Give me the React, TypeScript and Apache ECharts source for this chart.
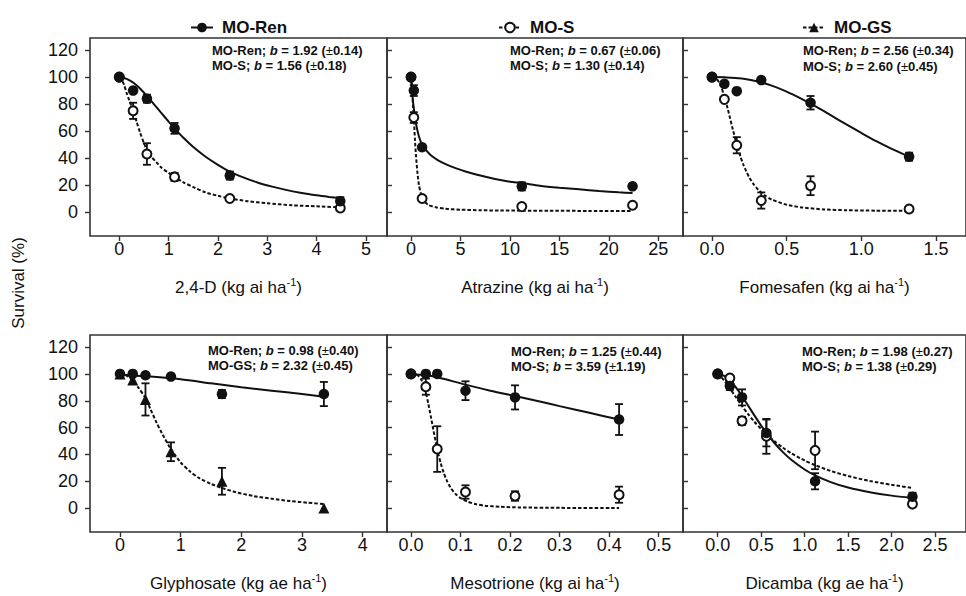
import React, { useEffect, useRef } from "react";
import * as echarts from "echarts";

const FONT = "'Liberation Sans', Arial, Helvetica, sans-serif";
const INK = "#111";

// ---------- axis texts / ticks ----------
const herbicides = ["2,4-D", "Atrazine", "Fomesafen", "Glyphosate", "Mesotrione", "Dicamba"];
const units = ["kg ai ha", "kg ai ha", "kg ai ha", "kg ae ha", "kg ai ha", "kg ae ha"];
const xTicks = [
  [0, 1, 2, 3, 4, 5],
  [0, 5, 10, 15, 20, 25],
  [0, 0.5, 1, 1.5],
  [0, 1, 2, 3, 4],
  [0, 0.1, 0.2, 0.3, 0.4, 0.5],
  [0, 0.5, 1, 1.5, 2, 2.5],
];
const xDecimals = [0, 0, 1, 0, 1, 1];
const xMin = [-0.594, -2.43, -0.194, -0.494, -0.0484, -0.399];
const xMax = [5.427, 27.5, 1.701, 4.4, 0.549, 2.856];
const yTicks = [0, 20, 40, 60, 80, 100, 120];
const yMin = -17.8;
const yMax = 129;
const yName = "Survival (%)";

// ---------- annotations: [population, b, se] ----------
const notes = [
  [["MO-Ren", "1.92", "0.14"], ["MO-S", "1.56", "0.18"]],
  [["MO-Ren", "0.67", "0.06"], ["MO-S", "1.30", "0.14"]],
  [["MO-Ren", "2.56", "0.34"], ["MO-S", "2.60", "0.45"]],
  [["MO-Ren", "0.98", "0.40"], ["MO-GS", "2.32", "0.45"]],
  [["MO-Ren", "1.25", "0.44"], ["MO-S", "3.59", "1.19"]],
  [["MO-Ren", "1.98", "0.27"], ["MO-S", "1.38", "0.29"]],
];

// ---------- observed points: [dose, survival, error] ----------
const renPts = [
  [[0, 100, 0], [0.28, 90, 0], [0.56, 84, 3], [1.12, 62, 4], [2.24, 27, 3], [4.48, 8, 3]],
  [[0, 100, 0], [0.28, 90, 4], [1.12, 48, 0], [11.2, 19, 3], [22.4, 19, 0]],
  [[0, 100, 0], [0.083, 95, 0], [0.166, 89.6, 0], [0.33, 97.8, 0], [0.66, 81, 5], [1.32, 41, 3]],
  [[0, 100, 0], [0.21, 100, 0], [0.42, 99, 0], [0.84, 98, 0], [1.68, 85, 3], [3.36, 85, 9]],
  [[0, 100, 0], [0.03, 100, 0], [0.053, 100, 0], [0.11, 87.5, 7], [0.21, 82.5, 9], [0.42, 66, 11.5]],
  [[0, 100, 0], [0.14, 91, 3], [0.28, 82.5, 6], [0.56, 56, 10], [1.12, 20, 6], [2.24, 8.5, 3]],
];
const susPts = [
  [[0, 100, 0], [0.28, 75, 6], [0.56, 43, 8], [1.12, 26, 3], [2.24, 10, 0], [4.48, 3, 0]],
  [[0, 100, 0], [0.28, 70, 4], [1.12, 10, 0], [11.2, 4, 0], [22.4, 5, 0]],
  [[0, 100, 0], [0.083, 83.5, 0], [0.166, 49.5, 6], [0.33, 8.5, 6], [0.66, 19.5, 7], [1.32, 2.2, 0]],
  [[0, 100, 0], [0.21, 95.5, 0], [0.42, 81, 12], [0.84, 42, 7], [1.68, 20, 10], [3.36, 0, 0]],
  [[0, 100, 0], [0.03, 90.5, 6], [0.053, 44, 17], [0.11, 12, 5], [0.21, 9, 3.5], [0.42, 10, 6]],
  [[0, 100, 0], [0.14, 97, 0], [0.28, 65, 3], [0.56, 53.5, 13], [1.12, 43, 14], [2.24, 3, 0]],
];

// ---------- fitted curves ----------
const renFitX = [
  [0, 0.1, 0.2, 0.3, 0.42, 0.56, 0.7, 0.85, 1.0, 1.12, 1.3, 1.5, 1.75, 2.0, 2.24, 2.5, 2.8, 3.1, 3.4, 3.7, 4.0, 4.25, 4.48],
  [0, 0.05, 0.1, 0.2, 0.3, 0.45, 0.6, 0.8, 1.12, 1.5, 2, 2.7, 3.5, 4.5, 5.5, 7, 8.5, 10, 11.2, 13, 15, 17, 19, 21, 22.4],
  [0, 0.1, 0.2, 0.3, 0.4, 0.5, 0.6, 0.7, 0.8, 0.9, 1.0, 1.1, 1.2, 1.32],
  [0, 0.5, 1, 1.5, 2, 2.5, 3, 3.36],
  [0, 0.03, 0.053, 0.08, 0.11, 0.16, 0.21, 0.26, 0.3, 0.36, 0.42],
  [0, 0.07, 0.14, 0.21, 0.28, 0.35, 0.42, 0.5, 0.56, 0.65, 0.75, 0.85, 1.0, 1.12, 1.3, 1.5, 1.75, 2.0, 2.24],
];
const renFitY = [
  [100, 99.4, 97.8, 95.4, 91.5, 86, 80, 73.5, 67, 62, 55, 48.2, 41, 35, 30, 25.9, 21.9, 18.8, 16.2, 14.1, 12.4, 11.2, 10.2],
  [100, 95, 90, 82, 76, 68, 62, 56, 50, 46, 42, 38.5, 35.5, 32.5, 30, 27, 24.5, 22.5, 21.5, 19.5, 18, 16.8, 15.6, 14.6, 14],
  [100, 99.8, 98.9, 96.9, 93.7, 89.3, 83.9, 77.9, 71.4, 64.9, 58.6, 52.5, 47, 41],
  [99.5, 98, 96, 93, 90, 87.5, 85, 83],
  [100, 99, 97.5, 95, 92, 87.5, 83.5, 79.5, 76, 71, 66],
  [100, 98.7, 95.2, 89.9, 83.4, 76.4, 69.3, 61.5, 56, 48.7, 41.7, 35.8, 28.8, 24.4, 19.4, 15.3, 11.8, 9.3, 7.6],
];
const susFitX = [
  [0, 0.05, 0.1, 0.15, 0.2, 0.28, 0.35, 0.42, 0.5, 0.56, 0.65, 0.75, 0.85, 1.0, 1.12, 1.3, 1.5, 1.75, 2.0, 2.24, 2.6, 3.0, 3.5, 4.0, 4.48],
  [0, 0.05, 0.1, 0.2, 0.28, 0.4, 0.5, 0.65, 0.8, 1.0, 1.12, 1.4, 1.8, 2.5, 3.5, 5, 7, 9, 11.2, 14, 18, 22.4],
  [0, 0.03, 0.06, 0.083, 0.1, 0.12, 0.14, 0.166, 0.19, 0.21, 0.23, 0.25, 0.28, 0.31, 0.35, 0.4, 0.5, 0.6, 0.75, 0.9, 1.1, 1.32],
  [0, 0.1, 0.21, 0.3, 0.42, 0.5, 0.6, 0.7, 0.84, 1.0, 1.15, 1.3, 1.5, 1.68, 1.9, 2.2, 2.5, 2.8, 3.1, 3.36],
  [0, 0.01, 0.02, 0.03, 0.035, 0.04, 0.045, 0.05, 0.055, 0.06, 0.066, 0.072, 0.08, 0.09, 0.1, 0.115, 0.13, 0.15, 0.18, 0.22, 0.3, 0.42],
  [0, 0.07, 0.14, 0.21, 0.28, 0.35, 0.42, 0.5, 0.56, 0.65, 0.75, 0.85, 1.0, 1.12, 1.3, 1.5, 1.75, 2.0, 2.24],
];
const susFitY = [
  [100, 98, 94, 88, 83, 75, 67, 59, 51, 46, 41, 37, 33, 29, 26, 22, 18.5, 14.5, 12, 10, 8, 6.5, 5, 4.2, 3.5],
  [100, 97, 92, 79, 70, 53, 42, 29, 20, 13.5, 11, 7.5, 5, 3.5, 2.4, 1.7, 1.3, 1.1, 1, 0.9, 0.8, 0.7],
  [100, 98.8, 93.4, 85.5, 79, 70, 61, 50, 41.3, 35.2, 30, 25.6, 20.4, 16.5, 12.6, 9.2, 5.4, 3.4, 1.9, 1.3, 1, 0.8],
  [100, 99, 95, 90, 82, 74, 64, 55, 44, 34, 27.5, 22.5, 18, 15, 12, 9, 7, 5.3, 4, 3],
  [100, 99.7, 96.3, 86, 77.8, 68.4, 58.6, 49.3, 40.8, 33.5, 26.4, 20.8, 15.2, 10.5, 7.5, 4.7, 3, 1.8, 1, 0.5, 0.2, 0],
  [100, 95.6, 89.2, 82.6, 76, 70, 64.5, 58.9, 55, 49.9, 45, 40.7, 35.5, 32, 27.7, 23.9, 20.2, 17.4, 15],
];

const legendNames = ["MO-Ren", "MO-S", "MO-GS"];

// ---------- layout ----------
const gridRects = [
  { left: 90, top: 38, width: 297, height: 198 },
  { left: 387, top: 38, width: 296, height: 198 },
  { left: 683, top: 38, width: 296, height: 198 },
  { left: 90, top: 335, width: 297, height: 197 },
  { left: 387, top: 335, width: 296, height: 197 },
  { left: 683, top: 335, width: 296, height: 197 },
];
const notePos = [
  [212, 50], [510, 50], [803, 50.5],
  [208, 350], [511, 351], [802, 351],
];

const filledStyle = { color: INK, borderColor: INK, borderWidth: 0, opacity: 1 };
const openStyle = { color: "#fff", borderColor: INK, borderWidth: 2, opacity: 1 };
const solidLine = { color: INK, width: 2, type: "solid" as const };
const dashLine = { color: INK, width: 2, type: [3.5, 2] as number[] };

function errorSeries(idx: number, pts: number[][], name: string) {
  return {
    type: "custom",
    name,
    xAxisIndex: idx,
    yAxisIndex: idx,
    z: 3,
    silent: true,
    data: pts.filter((p) => p[2] > 0),
    encode: { x: 0, y: 1 },
    renderItem: (_params: any, api: any) => {
      const x = api.value(0);
      const y = api.value(1);
      const e = api.value(2);
      const t = api.coord([x, y + e]);
      const b = api.coord([x, y - e]);
      const w = 4;
      const st = { stroke: INK, lineWidth: 1.8, fill: "none" };
      return {
        type: "group",
        children: [
          { type: "line", shape: { x1: t[0], y1: t[1], x2: b[0], y2: b[1] }, style: st },
          { type: "line", shape: { x1: t[0] - w, y1: t[1], x2: t[0] + w, y2: t[1] }, style: st },
          { type: "line", shape: { x1: b[0] - w, y1: b[1], x2: b[0] + w, y2: b[1] }, style: st },
        ],
      };
    },
  };
}

function buildOption() {
  const grid = gridRects.map((g) => ({
    ...g,
    show: true,
    borderColor: "#333",
    borderWidth: 1.6,
    backgroundColor: "transparent",
    containLabel: false,
  }));

  const xAxis = herbicides.map((h, i) => ({
    type: "value",
    gridIndex: i,
    position: "bottom",
    min: xMin[i],
    max: xMax[i],
    axisLine: { show: false, onZero: false },
    splitLine: { show: false },
    axisTick: {
      show: true,
      length: 5,
      inside: false,
      customValues: xTicks[i],
      lineStyle: { color: "#333", width: 1.4 },
    },
    axisLabel: {
      show: true,
      customValues: xTicks[i],
      margin: 4,
      fontSize: 18,
      fontFamily: FONT,
      color: INK,
      formatter: (v: number) => v.toFixed(xDecimals[i]),
    },
    name: `{t|${h} (${units[i]}}{s|-1}{t|)}`,
    nameLocation: "middle",
    nameGap: 40,
    nameTextStyle: {
      fontFamily: FONT,
      color: INK,
      fontSize: 17,
      rich: {
        t: { fontSize: 17, fontFamily: FONT, color: INK, lineHeight: 22 },
        s: { fontSize: 11, fontFamily: FONT, color: INK, verticalAlign: "top", lineHeight: 22 },
      },
    },
  }));

  const yAxis = herbicides.map((_h, i) => {
    const labelled = i === 0 || i === 3;
    return {
      type: "value",
      gridIndex: i,
      position: "left",
      min: yMin,
      max: yMax,
      axisLine: { show: false, onZero: false },
      splitLine: { show: false },
      axisTick: {
        show: true,
        length: 5,
        inside: !labelled,
        customValues: yTicks,
        lineStyle: { color: "#333", width: 1.4 },
      },
      axisLabel: {
        show: labelled,
        customValues: yTicks,
        margin: 12,
        fontSize: 18,
        fontFamily: FONT,
        color: INK,
      },
    };
  });

  const series: any[] = [];
  herbicides.forEach((_h, i) => {
    const third = i === 3;
    series.push({
      type: "line",
      name: `ren-fit-${i}`,
      xAxisIndex: i,
      yAxisIndex: i,
      data: renFitX[i].map((x, k) => [x, renFitY[i][k]]),
      showSymbol: false,
      symbol: "none",
      smooth: 0.25,
      lineStyle: solidLine,
      z: 2,
      silent: true,
    });
    series.push({
      type: "line",
      name: `sus-fit-${i}`,
      xAxisIndex: i,
      yAxisIndex: i,
      data: susFitX[i].map((x, k) => [x, susFitY[i][k]]),
      showSymbol: false,
      symbol: "none",
      smooth: 0.25,
      lineStyle: dashLine,
      z: 2,
      silent: true,
    });
    series.push(errorSeries(i, susPts[i], `sus-err-${i}`));
    series.push(errorSeries(i, renPts[i], `ren-err-${i}`));
    series.push({
      type: "scatter",
      name: `sus-pts-${i}`,
      xAxisIndex: i,
      yAxisIndex: i,
      data: susPts[i].map((p) => [p[0], p[1]]),
      symbol: third ? "triangle" : "circle",
      symbolSize: third ? 11 : 9,
      itemStyle: third ? filledStyle : openStyle,
      z: 4,
      silent: true,
    });
    series.push({
      type: "scatter",
      name: `ren-pts-${i}`,
      xAxisIndex: i,
      yAxisIndex: i,
      data: renPts[i].map((p) => [p[0], p[1]]),
      symbol: "circle",
      symbolSize: 10.5,
      itemStyle: filledStyle,
      z: 5,
      silent: true,
    });
  });

  // legend carriers
  const legendSymbols = ["circle", "circle", "triangle"];
  const legendItemStyles = [filledStyle, openStyle, filledStyle];
  const legendLines = [solidLine, dashLine, dashLine];
  legendNames.forEach((n, k) => {
    series.push({
      type: "line",
      name: n,
      xAxisIndex: 0,
      yAxisIndex: 0,
      data: [],
      symbol: legendSymbols[k],
      symbolSize: 9,
      itemStyle: legendItemStyles[k],
      lineStyle: { ...legendLines[k], width: 1.6 },
    });
  });

  const legendLefts = [185, 493, 797];
  const legend = legendNames.map((n, k) => ({
    data: [n],
    left: legendLefts[k],
    top: 14,
    itemWidth: 22,
    itemHeight: 12,
    selectedMode: false,
    textStyle: {
      fontSize: 17,
      fontWeight: "bold",
      fontFamily: FONT,
      color: INK,
      padding: [0, 0, 0, 4],
    },
  }));

  const graphic: any[] = [];
  notes.forEach((pair, i) => {
    pair.forEach((row, r) => {
      graphic.push({
        type: "text",
        x: notePos[i][0],
        y: notePos[i][1] + r * 15.5,
        silent: true,
        style: {
          text: `{n|${row[0]}; }{i|b}{n| = ${row[1]} (}{p|±}{n|${row[2]})}`,
          verticalAlign: "middle",
          align: "left",
          rich: {
            n: { fontSize: 13, fontWeight: "bold", fontFamily: FONT, fill: INK },
            i: { fontSize: 13, fontWeight: "bold", fontStyle: "italic", fontFamily: FONT, fill: INK },
            p: { fontSize: 13, fontWeight: "normal", fontFamily: FONT, fill: INK },
          },
        },
      });
    });
  });
  graphic.push({
    type: "text",
    x: 18,
    y: 283,
    rotation: Math.PI / 2,
    silent: true,
    style: {
      text: yName,
      fontSize: 17,
      fontFamily: FONT,
      fill: INK,
      align: "center",
      verticalAlign: "middle",
    },
  });

  return {
    animation: false,
    backgroundColor: "#fff",
    grid,
    xAxis,
    yAxis,
    legend,
    series,
    graphic,
  };
}

export default function App() {
  const ref = useRef<HTMLDivElement>(null);
  useEffect(() => {
    document.body.style.margin = "0";
    if (!ref.current) return;
    const chart = echarts.init(ref.current, null, { renderer: "svg" });
    chart.setOption(buildOption() as any);
    return () => chart.dispose();
  }, []);
  return <div ref={ref} style={{ width: 966, height: 596 }} />;
}
